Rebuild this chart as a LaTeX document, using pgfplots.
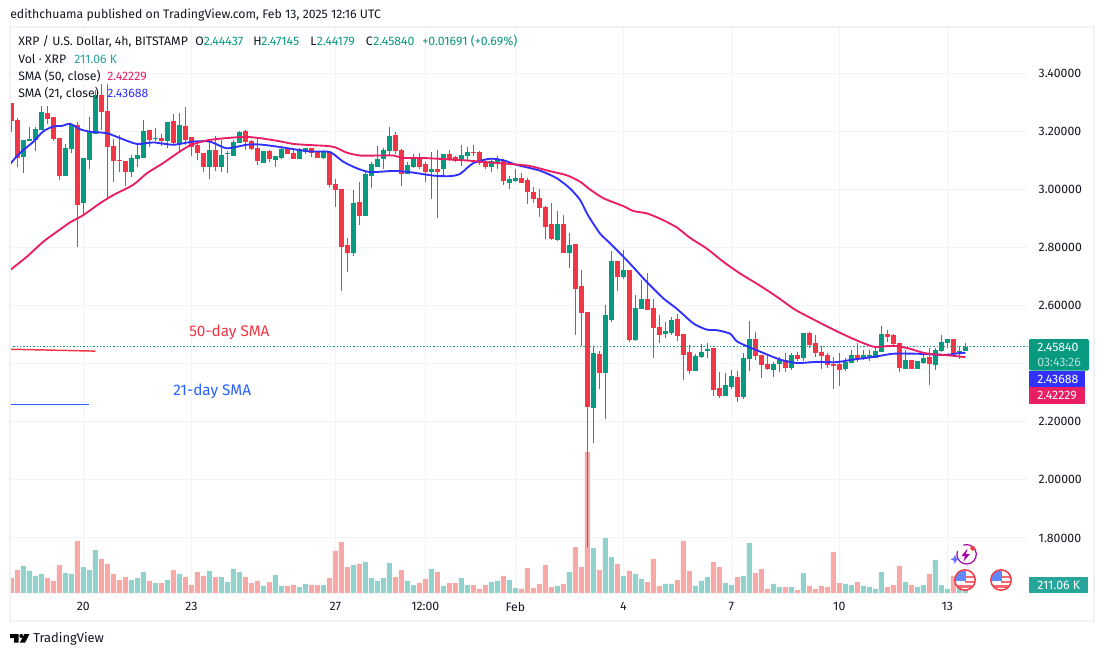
\documentclass[border=0pt]{standalone}
\usepackage{fontspec}
\setmainfont{Fira Sans}
\usepackage{pgfplots}
\usepackage{pgfplotstable}
\pgfplotsset{compat=1.18}

\definecolor{upc}{HTML}{089981}
\definecolor{downc}{HTML}{F23645}
\definecolor{upv}{HTML}{92D2CC}
\definecolor{downv}{HTML}{F7A9A7}
\definecolor{sma21}{HTML}{3030FF}
\definecolor{sma50}{HTML}{E91E63}
\definecolor{ink}{HTML}{131722}
\definecolor{gridc}{HTML}{F0F3FA}
\definecolor{framec}{HTML}{F0F1F3}
\definecolor{annblue}{HTML}{2962FF}
\definecolor{voltag}{HTML}{26A69A}

% candles: index open high low close
\pgfplotstableread{
i o h l c
2 3.113 3.170 3.057 3.170
3 3.169 3.213 3.168 3.174
4 3.170 3.213 3.133 3.208
5 3.205 3.287 3.205 3.267
9 3.046 3.156 3.046 3.142
10 3.139 3.221 3.124 3.221
12 2.954 3.108 2.910 3.108
13 3.101 3.249 3.070 3.199
14 3.192 3.340 3.192 3.323
20 3.063 3.118 3.042 3.108
21 3.105 3.153 3.077 3.118
22 3.111 3.239 3.111 3.200
24 3.174 3.210 3.167 3.176
26 3.167 3.231 3.142 3.231
28 3.156 3.263 3.132 3.222
33 3.077 3.170 3.036 3.136
35 3.077 3.170 3.060 3.118
36 3.123 3.132 3.056 3.125
37 3.115 3.170 3.115 3.163
38 3.160 3.201 3.160 3.198
42 3.094 3.132 3.094 3.132
44 3.101 3.115 3.077 3.115
45 3.111 3.143 3.105 3.139
48 3.105 3.143 3.105 3.139
49 3.129 3.143 3.122 3.143
52 3.111 3.136 3.105 3.129
57 2.784 2.998 2.770 2.953
59 2.911 3.060 2.911 3.053
60 3.046 3.094 3.004 3.087
61 3.080 3.149 3.080 3.105
62 3.105 3.143 3.070 3.136
63 3.132 3.215 3.115 3.184
66 3.053 3.094 3.053 3.084
67 3.077 3.122 3.074 3.105
70 3.060 3.129 2.967 3.070
72 3.070 3.122 3.049 3.122
75 3.098 3.153 3.080 3.118
76 3.118 3.146 3.101 3.129
80 3.077 3.105 3.060 3.098
81 3.094 3.115 3.070 3.101
83 3.025 3.046 3.001 3.036
84 3.029 3.070 3.025 3.039
91 2.829 2.925 2.822 2.880
93 2.784 2.849 2.729 2.808
97 2.249 2.456 2.128 2.435
99 2.370 2.601 2.208 2.566
100 2.553 2.787 2.542 2.753
102 2.701 2.791 2.691 2.722
104 2.484 2.635 2.477 2.591
105 2.591 2.687 2.587 2.622
109 2.504 2.542 2.487 2.511
110 2.508 2.560 2.497 2.549
114 2.377 2.432 2.377 2.425
115 2.425 2.466 2.418 2.439
116 2.447 2.470 2.421 2.449
119 2.290 2.366 2.290 2.325
120 2.321 2.377 2.311 2.356
122 2.286 2.435 2.279 2.421
123 2.417 2.545 2.376 2.483
127 2.379 2.407 2.355 2.397
128 2.400 2.424 2.372 2.414
130 2.386 2.435 2.379 2.428
132 2.421 2.507 2.410 2.507
139 2.383 2.421 2.376 2.407
140 2.403 2.448 2.403 2.431
142 2.417 2.448 2.414 2.428
143 2.424 2.448 2.410 2.428
144 2.421 2.459 2.421 2.445
145 2.441 2.531 2.441 2.503
149 2.383 2.448 2.383 2.414
151 2.383 2.410 2.383 2.410
152 2.403 2.435 2.400 2.421
154 2.397 2.455 2.379 2.448
155 2.445 2.497 2.441 2.476
156 2.472 2.486 2.455 2.483
158 2.441 2.459 2.417 2.444
159 2.44437 2.47145 2.44179 2.45840
}\upcandles

\pgfplotstableread{
i o h l c
0 3.297 3.297 3.198 3.236
1 3.239 3.245 3.075 3.111
6 3.263 3.287 3.223 3.243
7 3.249 3.249 3.165 3.174
8 3.177 3.177 3.033 3.046
11 3.222 3.231 2.802 2.949
15 3.323 3.363 3.205 3.267
16 3.270 3.363 2.969 3.147
17 3.149 3.172 3.025 3.098
18 3.100 3.187 3.060 3.098
19 3.098 3.098 3.011 3.063
23 3.205 3.205 3.145 3.170
25 3.177 3.191 3.149 3.168
27 3.236 3.260 3.153 3.160
29 3.218 3.284 3.153 3.172
30 3.180 3.180 3.115 3.146
31 3.153 3.167 3.101 3.125
32 3.125 3.125 3.060 3.080
34 3.136 3.184 3.063 3.077
39 3.201 3.205 3.136 3.163
40 3.167 3.170 3.136 3.139
41 3.142 3.174 3.084 3.098
43 3.132 3.136 3.094 3.105
46 3.139 3.143 3.122 3.122
47 3.125 3.143 3.105 3.105
50 3.143 3.143 3.111 3.125
51 3.129 3.129 3.111 3.111
53 3.129 3.129 3.008 3.018
54 3.018 3.036 2.939 2.998
55 3.001 3.001 2.649 2.804
56 2.808 2.832 2.715 2.784
58 2.956 3.025 2.877 2.911
64 3.187 3.198 3.122 3.132
65 3.136 3.139 3.011 3.053
68 3.105 3.125 3.070 3.080
69 3.087 3.094 3.025 3.060
71 3.070 3.136 2.901 3.063
73 3.122 3.136 3.098 3.101
74 3.111 3.115 3.094 3.098
77 3.129 3.153 3.115 3.126
78 3.129 3.132 3.084 3.091
79 3.094 3.098 3.070 3.077
82 3.101 3.105 3.015 3.029
85 3.039 3.056 3.025 3.025
86 3.032 3.039 2.949 2.991
87 2.991 3.008 2.953 2.970
88 2.970 3.001 2.905 2.936
89 2.939 2.943 2.829 2.873
90 2.880 2.953 2.825 2.832
92 2.880 2.911 2.780 2.784
94 2.811 2.811 2.497 2.660
95 2.667 2.722 2.460 2.577
96 2.577 2.577 1.769 2.252
98 2.432 2.442 2.311 2.370
101 2.753 2.753 2.649 2.701
103 2.722 2.722 2.473 2.484
106 2.622 2.711 2.587 2.587
107 2.591 2.622 2.421 2.525
108 2.525 2.566 2.470 2.501
111 2.553 2.570 2.477 2.497
112 2.501 2.501 2.342 2.432
113 2.439 2.463 2.363 2.377
117 2.453 2.453 2.287 2.311
118 2.315 2.370 2.280 2.290
121 2.355 2.376 2.269 2.286
124 2.483 2.510 2.414 2.428
125 2.428 2.428 2.352 2.397
126 2.397 2.428 2.379 2.383
129 2.414 2.438 2.372 2.386
131 2.431 2.441 2.410 2.417
133 2.507 2.510 2.455 2.466
134 2.472 2.497 2.424 2.438
135 2.441 2.459 2.383 2.428
136 2.431 2.438 2.386 2.397
137 2.400 2.424 2.314 2.393
138 2.397 2.438 2.324 2.379
141 2.431 2.472 2.407 2.421
146 2.503 2.517 2.476 2.493
147 2.497 2.503 2.459 2.469
148 2.472 2.472 2.372 2.386
150 2.414 2.414 2.383 2.383
153 2.424 2.455 2.328 2.400
157 2.486 2.486 2.428 2.434
}\downcandles

% volume in thousands
\pgfplotstableread{
i v
2 713
3 581
4 449
5 502
9 528
10 502
12 686
13 607
14 1135
20 343
21 396
22 554
24 264
26 343
28 502
33 581
35 422
36 290
37 634
38 554
42 185
44 475
45 185
48 158
49 238
52 211
57 739
59 818
60 396
61 317
62 396
63 792
66 317
67 211
70 634
72 185
75 396
76 211
80 290
81 317
83 343
84 132
91 185
93 554
97 1188
99 1452
100 950
102 449
104 502
105 370
109 238
110 238
114 185
115 317
116 422
119 264
120 211
122 449
123 1320
127 238
128 158
130 158
132 528
139 238
140 211
142 185
143 158
144 106
145 554
149 290
151 158
152 211
154 871
155 211
156 106
158 211
159 211
}\upvol

\pgfplotstableread{
i v
0 396
1 607
6 396
7 317
8 739
11 1373
15 898
16 766
17 502
18 343
19 422
23 317
25 264
27 607
29 422
30 211
31 554
32 449
34 422
39 422
40 264
41 317
43 290
46 185
47 211
50 211
51 211
53 396
54 1109
55 1346
56 686
58 766
64 422
65 607
68 264
69 370
71 554
73 264
74 264
77 211
78 106
79 211
82 449
85 106
86 660
87 132
88 238
89 739
90 158
92 238
94 1214
95 686
96 3722
98 607
101 766
103 581
106 290
107 898
108 185
111 343
112 1373
113 581
117 818
118 686
121 422
124 528
125 634
126 106
129 158
131 79
133 185
134 106
135 185
136 158
137 1082
138 264
141 290
146 158
147 211
148 713
150 211
153 502
157 449
}\downvol

\pgfplotsset{
  pane/.style={at={(7.5pt,-445.5pt)}, anchor=south west, scale only axis,
    width=763.5pt, height=425.25pt, xmin=-0.22, xmax=169.45},
  price/.style={ymin=1.6072, ymax=3.5583},
}

\begin{document}
\begin{tikzpicture}[x=0.75pt,y=-0.75pt]
\path[use as bounding box, fill=white] (0,0) rectangle (1104,656);

% grid and tick labels
\begin{axis}[pane, price,
    axis line style={draw=none}, major tick length=0pt,
    grid=major, major grid style={color=gridc, line width=0.75pt},
    ytick={1.8,2.0,2.2,2.4,2.6,2.8,3.0,3.2,3.4},
    xtick={12,30,54,69,84,102,120,138,156},
    xticklabels={20,23,27,12:00,Feb,4,7,10,13},
    ticklabel pos=right,
    xticklabel pos=bottom,
    yticklabel style={/pgf/number format/fixed, /pgf/number format/fixed zerofill,
      /pgf/number format/precision=5, /pgf/number format/assume math mode=true,
      font=\fontsize{9.2}{11}\selectfont, color=ink, anchor=west, xshift=4.5pt},
    xticklabel style={font=\fontsize{9.2}{11}\selectfont, color=ink, anchor=center, yshift=-9.5pt},
  ]
\end{axis}

% volume
\begin{axis}[pane, hide axis, ymin=-26.4, ymax=14942, ybar, bar width=3.75pt, /pgf/bar shift=0pt]
  \addplot[draw=none, fill=upv] table[x=i, y=v] {\upvol};
  \addplot[draw=none, fill=downv] table[x=i, y=v] {\downvol};
\end{axis}

% candles, averages, annotations
\begin{axis}[pane, price, hide axis]
  \addplot[draw=none, mark=none, error bars/.cd, y dir=minus, y explicit, error mark=none,
      error bar style={line width=0.75pt, color=upc}]
    table[x=i, y=h, y error minus expr=\thisrow{h}-\thisrow{l}] {\upcandles};
  \addplot[draw=none, mark=none, error bars/.cd, y dir=minus, y explicit, error mark=none,
      error bar style={line width=0.75pt, color=downc}]
    table[x=i, y=h, y error minus expr=\thisrow{h}-\thisrow{l}] {\downcandles};
  \addplot[draw=none, mark=none, error bars/.cd, y dir=minus, y explicit, error mark=none,
      error bar style={line width=3.75pt, color=upc}]
    table[x=i, y=c, y error minus expr=\thisrow{c}-\thisrow{o}+0.002] {\upcandles};
  \addplot[draw=none, mark=none, error bars/.cd, y dir=minus, y explicit, error mark=none,
      error bar style={line width=3.75pt, color=downc}]
    table[x=i, y=o, y error minus expr=\thisrow{o}-\thisrow{c}+0.002] {\downcandles};

  % last close
  \addplot[upc, line width=0.75pt, dash pattern=on 0.9pt off 1.6pt] coordinates {(-0.22,2.4584) (169.45,2.4584)};

  % SMA 21
  \addplot[sma21, line width=1.4pt, smooth, tension=0.4, mark=none] coordinates {
    (-0.2,3.087) (1.4,3.124) (3.7,3.164) (5.3,3.199) (7,3.216) (8.4,3.218) (9.8,3.225)
    (11.4,3.207) (13.1,3.198) (15.9,3.193) (18.1,3.176) (20.9,3.156) (23.7,3.161) (27,3.153)
    (30.3,3.164) (33.1,3.164) (35.9,3.141) (39.2,3.153) (41.4,3.154) (44.2,3.147) (47,3.138)
    (49.8,3.130) (53.1,3.128) (55.3,3.095) (57.6,3.072) (59.8,3.059) (63.7,3.063) (66.4,3.059)
    (70.3,3.047) (73.1,3.045) (74.8,3.053) (77,3.090) (79.8,3.105) (82.1,3.099) (84.2,3.084)
    (88.1,3.064) (90.9,3.038) (93.1,3.003) (94.8,2.963) (96.1,2.911) (98.1,2.848) (99.8,2.814)
    (102,2.768) (103.7,2.731) (105.9,2.681) (108.7,2.624) (110.9,2.589) (113.7,2.538)
    (115.9,2.517) (117.6,2.515) (119.8,2.503) (120.9,2.477) (122.6,2.460) (125.3,2.437)
    (128.1,2.414) (130.9,2.402) (134.2,2.406) (137.5,2.405) (140.3,2.414) (143.7,2.423)
    (147,2.434) (150.9,2.434) (154.2,2.431) (156.4,2.431) (158.1,2.437) (159,2.43688)};

  % SMA 50
  \addplot[sma50, line width=1.4pt, smooth, tension=0.4, mark=none] coordinates {
    (-0.2,2.722) (2.6,2.768) (5.3,2.819) (7.6,2.854) (9.8,2.886) (12,2.911) (14.8,2.952)
    (17,2.980) (20.3,3.015) (22.6,3.055) (25.3,3.090) (28.1,3.130) (30,3.153) (32.6,3.168)
    (34.8,3.174) (37,3.178) (39.2,3.180) (41.4,3.176) (44.2,3.167) (47,3.156) (49.8,3.152)
    (52.6,3.149) (54,3.144) (55.9,3.126) (58.1,3.116) (60.9,3.116) (63.7,3.116) (65.3,3.108)
    (69.2,3.107) (72.6,3.103) (75.9,3.099) (79.3,3.093) (83.1,3.087) (86.4,3.080) (89.8,3.062)
    (92.6,3.048) (94.8,3.026) (96.4,3.000) (98.7,2.969) (102,2.942) (103.7,2.925) (105.9,2.917)
    (108.1,2.899) (110.9,2.869) (113.1,2.833) (115.9,2.796) (118.7,2.750) (121.4,2.711)
    (124.8,2.668) (127.8,2.627) (130.6,2.586) (133.7,2.552) (137.5,2.512) (140.9,2.480)
    (143.7,2.458) (145.9,2.460) (147.6,2.460) (149.8,2.451) (152,2.437) (154.2,2.431)
    (156.4,2.428) (159,2.42229)};

  % hand-drawn annotation lines
  \addplot[downc, line width=1.1pt] coordinates {(-0.22,2.4495) (14,2.4430)};
  \addplot[annblue, line width=1.1pt] coordinates {(-0.22,2.2600) (13,2.2600)};
\end{axis}

% frame
\draw[framec, line width=1.5pt] (9.5,27) rectangle (1094,621);

% header and legend
\begin{scope}[every node/.style={anchor=west, inner sep=0pt, text=ink, font=\fontsize{9.2}{11}\selectfont}]
  \node at (10,15) {edithchuama published on TradingView.com, Feb 13, 2025 12:16 UTC};
  \node at (18,41.5) {XRP / U.S. Dollar, 4h, BITSTAMP};
  \node at (195,41.5) {O};
  \node[text=upc] at (203.5,41.5) {2.44437};
  \node at (253,41.5) {H};
  \node[text=upc] at (261,41.5) {2.47145};
  \node at (310,41.5) {L};
  \node[text=upc] at (316.5,41.5) {2.44179};
  \node at (365.5,41.5) {C};
  \node[text=upc] at (373,41.5) {2.45840};
  \node[text=upc] at (422,41.5) {+0.01691 (+0.69\%)};
  \node at (18,59) {Vol · XRP};
  \node[text=voltag] at (74,59) {211.06 K};
  \node at (18,76) {SMA (50, close)};
  \node[text=sma50] at (107,76) {2.42229};
  \node at (18,93) {SMA (21, close)};
  \node[text=sma21] at (107,93) {2.43688};
  \node[font=\fontsize{9.7}{12}\selectfont] at (33,638.5) {TradingView};
  % annotation texts
  \node[text=downc, font=\fontsize{11.5}{13}\selectfont] at (189,332) {50-day SMA};
  \node[text=annblue, font=\fontsize{11.5}{13}\selectfont] at (173,391) {21-day SMA};
\end{scope}

% price tags
\fill[upc, rounded corners=1pt] (1029,339) rectangle (1089,370.5);
\fill[sma21] (1029,370.5) rectangle (1085,387);
\fill[sma50] (1029,387) rectangle (1085,404);
\fill[voltag] (1029,577) rectangle (1088,593);
\begin{scope}[every node/.style={anchor=west, inner sep=0pt, text=white, font=\fontsize{9.2}{11}\selectfont}]
  \node at (1037,347.5) {2.45840};
  \node[text=white!70!upc] at (1037,362) {03:43:26};
  \node at (1037,379) {2.43688};
  \node at (1037,395.5) {2.42229};
  \node at (1037,585.5) {211.06 K};
\end{scope}

% TradingView logo
\fill[black] (10,634) -- (18.5,634) -- (18.5,642.7) -- (14,642.7) -- (14,638) -- (10,638) -- cycle;
\fill[black] (21.3,636) circle (2);
\fill[black] (24.5,634) -- (29.5,634) -- (25,642.7) -- (19.8,642.7) -- cycle;

% bolt icon
\draw[violet!70!magenta, line width=0.9pt] (957.5,551) arc[start angle=200, end angle=-110, radius=9.7];
\fill[violet!70!magenta] (967.5,548.5) -- (961.5,556) -- (965,556) -- (963.5,561.5) -- (970,554) -- (966,554) -- cycle;
\fill[sma21!70!white] (955,554.5) -- (956.3,558) -- (959.5,559.3) -- (956.3,560.6) -- (955,564) -- (953.7,560.6) -- (950.5,559.3) -- (953.7,558) -- cycle;
\fill[downc] (972.7,548.3) circle (2.4);

% flag icons
\foreach \cx in {965,1001}{
  \begin{scope}
    \clip (\cx,580) circle (9.5);
    \fill[white] (\cx-10,570) rectangle (\cx+10,590);
    \fill[downc!75!white] (\cx,575.5) rectangle (\cx+10,578);
    \fill[downc!75!white] (\cx,580.5) rectangle (\cx+10,583);
    \fill[downc!75!white] (\cx-10,585) rectangle (\cx+10,587.5);
    \fill[annblue!75!white] (\cx-10,570) rectangle (\cx+1,581);
  \end{scope}
  \draw[downc, line width=1.1pt] (\cx,580) circle (10.2);
}
\end{tikzpicture}
\end{document}
